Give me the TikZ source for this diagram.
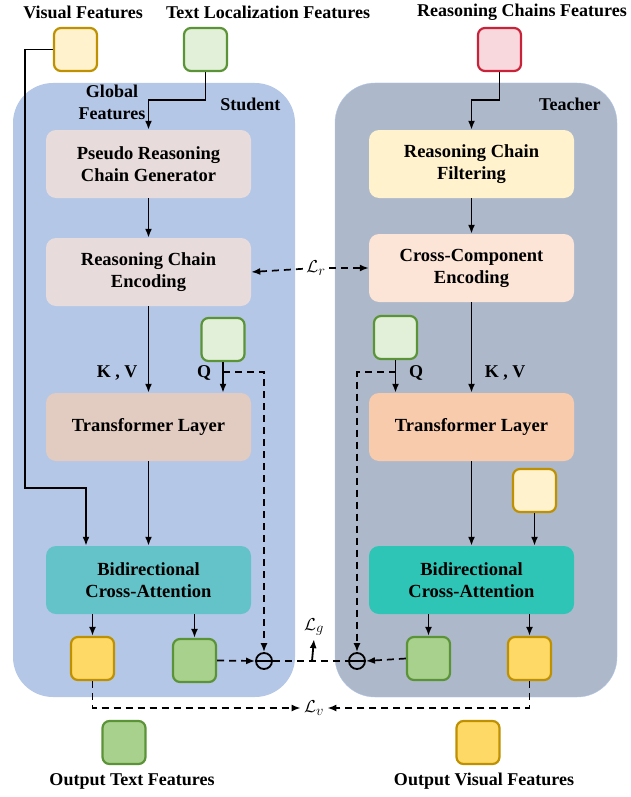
\documentclass[tikz,border=0pt]{standalone}
\usepackage{fontspec}
\setmainfont{Liberation Serif}
\usepackage{amsmath}
\usetikzlibrary{arrows.meta}

\definecolor{studentbg}{HTML}{B4C7E7}
\definecolor{teacherbg}{HTML}{ADB9CA}
\definecolor{visfill}{HTML}{FFF2CC}
\definecolor{visdraw}{HTML}{BF9000}
\definecolor{txtfill}{HTML}{E2F0D9}
\definecolor{txtdraw}{HTML}{5B9337}
\definecolor{rcfill}{HTML}{F8D7DD}
\definecolor{rcdraw}{HTML}{C9233A}
\definecolor{genfill}{HTML}{E7DCDB}
\definecolor{stlfill}{HTML}{E2CBC0}
\definecolor{sbcafill}{HTML}{64C3C8}
\definecolor{filtfill}{HTML}{FFF2CC}
\definecolor{ccefill}{HTML}{FCE4D6}
\definecolor{ttlfill}{HTML}{F8CBAD}
\definecolor{tbcafill}{HTML}{2EC4B6}
\definecolor{outvis}{HTML}{FFD966}
\definecolor{outtxt}{HTML}{A9D18E}

\tikzset{
  >={Latex[length=9pt,width=7pt]},
  panel/.style={rounded corners=40pt},
  block/.style={rounded corners=10pt, minimum width=205pt, minimum height=68pt,
    align=center, font=\fontsize{18.5}{22}\selectfont\bfseries},
  feat/.style={draw, rounded corners=7pt, line width=2.2pt, minimum size=43pt, inner sep=0pt},
  flow/.style={line width=1.8pt, ->},
  loss/.style={line width=1.7pt, dash pattern=on 7pt off 5pt},
  minus/.style={circle, draw, line width=1.8pt, minimum size=16pt, inner sep=0pt,
    path picture={\draw[line width=1.8pt] (path picture bounding box.west) -- (path picture bounding box.east);}},
  lossname/.style={font=\fontsize{19}{20}\selectfont},
}
\tikzstyle{every node}=[font=\fontsize{18}{22}\selectfont\bfseries]

\begin{document}
\begin{tikzpicture}[x=1pt,y=-1pt]
  \useasboundingbox (0,0) rectangle (631,797);
  % panels
  \fill[studentbg,panel] (13,83) rectangle (295,697);
  \filldraw[fill=teacherbg,draw=studentbg,panel] (335,83) rectangle (617,697);
  \node[anchor=east] at (284,104) {Student};
  \node[anchor=east] at (604,104) {Teacher};
  \node[align=center] at (112,102) {Global\\Features};

  % input features
  \node at (83,12) {Visual Features};
  \node at (268,12) {Text Localization Features};
  \node at (522,12) {Reasoning Chains Features};
  \node[feat, fill=visfill, draw=visdraw] (vis) at (75.5,49.5) {};
  \node[feat, fill=txtfill, draw=txtdraw] (txt) at (205.5,49.5) {};
  \node[feat, fill=rcfill, draw=rcdraw] (rc) at (499.5,49.5) {};

  % student branch
  \node[block, fill=genfill] (prcg) at (148.5,164) {Pseudo Reasoning\\Chain Generator};
  \node[block, fill=genfill] (senc) at (148.5,272) {Reasoning Chain\\Encoding};
  \node[block, fill=stlfill] (stl) at (148.5,427) {Transformer Layer};
  \node[block, fill=sbcafill] (sbca) at (148.5,580) {Bidirectional\\Cross-Attention};
  \node[feat, fill=txtfill, draw=txtdraw] (sq) at (223,339.5) {};
  \node[feat, fill=outvis, draw=visdraw] (sov) at (92.5,658.5) {};
  \node[feat, fill=outtxt, draw=txtdraw] (sot) at (194.5,660.5) {};

  % teacher branch
  \node[block, fill=filtfill] (filt) at (471.5,164) {Reasoning Chain\\Filtering};
  \node[block, fill=ccefill] (cce) at (471.5,268) {Cross-Component\\Encoding};
  \node[block, fill=ttlfill] (ttl) at (471.5,427) {Transformer Layer};
  \node[block, fill=tbcafill] (tbca) at (471.5,580) {Bidirectional\\Cross-Attention};
  \node[feat, fill=txtfill, draw=txtdraw] (tq) at (395.5,337.5) {};
  \node[feat, fill=visfill, draw=visdraw] (tv) at (534.5,490.5) {};
  \node[feat, fill=outtxt, draw=txtdraw] (tot) at (428.5,658.5) {};
  \node[feat, fill=outvis, draw=visdraw] (tov) at (529.5,658.5) {};

  % outputs
  \node[feat, fill=outtxt, draw=txtdraw] (otf) at (124,742.5) {};
  \node[feat, fill=outvis, draw=visdraw] (ovf) at (478,742.5) {};
  \node at (132,781) {Output Text Features};
  \node at (484,781) {Output Visual Features};

  % labels
  \node at (117,373) {K , V};
  \node at (204,373) {Q};
  \node at (505,373) {K , V};
  \node at (416,373) {Q};

  % solid arrows
  \draw[flow] (vis.west) -| (25,488) -| ([xshift=-62.5pt]sbca.north);
  \draw[flow] (txt.south) -- ++(0,28) -| (prcg.north);
  \draw[flow] (rc.south) -- ++(0,28) -| (filt.north);
  \draw[flow] (prcg) -- (senc);
  \draw[flow] (senc) -- (stl);
  \draw[flow] (stl) -- (sbca);
  \draw[flow] (sq.south) -- (sq.south |- stl.north);
  \draw[flow] ([xshift=-56pt]sbca.south) -- (sov.north);
  \draw[flow] (sot.north |- sbca.south) -- (sot.north);
  \draw[flow] (filt) -- (cce);
  \draw[flow] (cce) -- (ttl);
  \draw[flow] (ttl) -- (tbca);
  \draw[flow] (tq.south) -- (tq.south |- ttl.north);
  \draw[flow] (tv.south) -- (tv.south |- tbca.north);
  \draw[flow] (tot.north |- tbca.south) -- (tot.north);
  \draw[flow] (tov.north |- tbca.south) -- (tov.north);

  % losses
  \node[minus] (smin) at (264,661) {};
  \node[minus] (tmin) at (357,661) {};
  \node[lossname] (lr) at (316,268) {$\mathcal{L}_r$};
  \node[lossname] (lg) at (314,627) {$\mathcal{L}_g$};
  \node[lossname] (lv) at (314,708) {$\mathcal{L}_v$};
  \coordinate (sqs) at (223,372);
  \coordinate (tqs) at (395.5,372);
  \coordinate (gmid) at (312,661);
  \draw[loss,->] (lr) -- (senc.east);
  \draw[loss,->] (lr) -- (cce.west);
  \draw[loss,->] (sqs) -| (smin.north);
  \draw[loss,->] (tqs) -| (tmin.north);
  \draw[loss,->] (sot.east) -- (smin.west);
  \draw[loss,->] (tot.west) -- (tmin.east);
  \draw[loss] (smin.east) -- (tmin.west);
  \draw[flow] (gmid) -- (lg.south);
  \draw[loss,->] (sov.south) |- (lv.west);
  \draw[loss,->] (tov.south) |- (lv.east);
\end{tikzpicture}
\end{document}
